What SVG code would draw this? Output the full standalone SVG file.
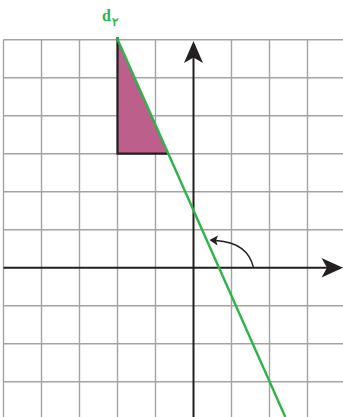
<svg xmlns="http://www.w3.org/2000/svg" width="343" height="417" viewBox="0 0 343 417">
<style>
.grid line{stroke:#a3a3a3;stroke-width:1.4}
.axis{stroke:#231f20;stroke-width:2;fill:none}
.head{fill:#231f20}
.green{stroke:#2db34a;stroke-width:2.4;fill:none}
.lbl{font-family:"Liberation Serif",serif;font-weight:bold;fill:#2db34a}
</style>
<rect width="343" height="417" fill="#fff"/>
<g id="grid" class="grid">
<line x1="3.5" y1="39.7" x2="343" y2="39.7"/>
<line x1="3.5" y1="77.7" x2="343" y2="77.7"/>
<line x1="3.5" y1="115.7" x2="343" y2="115.7"/>
<line x1="3.5" y1="153.7" x2="343" y2="153.7"/>
<line x1="3.5" y1="191.7" x2="343" y2="191.7"/>
<line x1="3.5" y1="229.7" x2="343" y2="229.7"/>
<line x1="3.5" y1="305.7" x2="343" y2="305.7"/>
<line x1="3.5" y1="343.7" x2="343" y2="343.7"/>
<line x1="3.5" y1="381.7" x2="343" y2="381.7"/>
<line x1="3.5" y1="39.7" x2="3.5" y2="417"/>
<line x1="41.5" y1="39.7" x2="41.5" y2="417"/>
<line x1="79.5" y1="39.7" x2="79.5" y2="417"/>
<line x1="117.5" y1="39.7" x2="117.5" y2="417"/>
<line x1="155.5" y1="39.7" x2="155.5" y2="417"/>
<line x1="231.5" y1="39.7" x2="231.5" y2="417"/>
<line x1="269.5" y1="39.7" x2="269.5" y2="417"/>
<line x1="307.5" y1="39.7" x2="307.5" y2="417"/>
</g>
<g id="triangle">
<polygon points="117.5,39.7 117.5,153.7 168.2,153.7" fill="#bc5f8b"/>
<polyline points="117.5,37 117.5,153.7 168.2,153.7" fill="none" stroke="#231f20" stroke-width="2.2"/>
</g>
<g id="axes">
<line class="axis" x1="3.5" y1="267.7" x2="330" y2="267.7"/>
<path class="head" d="M343,267.7 L321.5,258 L327,267.7 L321.5,277.5 Z"/>
<line class="axis" x1="193.5" y1="417" x2="193.5" y2="55"/>
<path class="head" d="M193.5,41 L184,63 L193.5,57.5 L203,63 Z"/>
</g>
<g id="connectors">
<path d="M253.5,267.7 C250,252 238,242 216,240.5" fill="none" stroke="#231f20" stroke-width="1.4"/>
<path class="head" d="M209.5,240 L218,235.5 L216,240.5 L217.5,245.5 Z"/>
</g>
<g id="line-d2">
<line class="green" x1="116.7" y1="37.6" x2="285.3" y2="417"/>
<text class="lbl" x="102" y="21" font-size="16">d</text>
<text class="lbl" x="112" y="26" font-size="12" font-family="'Noto Sans',sans-serif">۲</text>
</g>
</svg>
